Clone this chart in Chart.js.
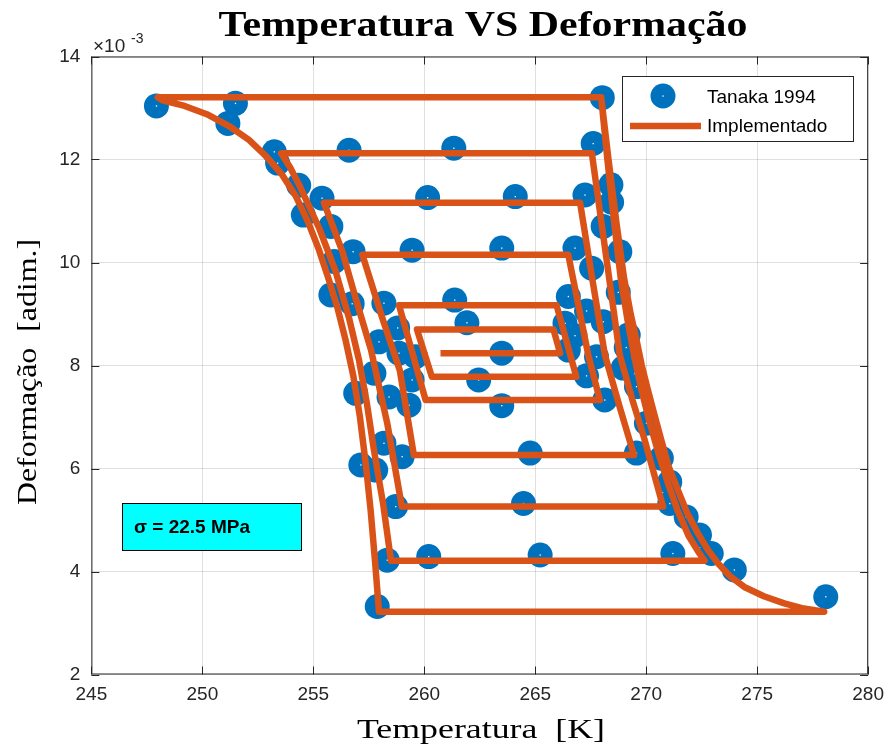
<!DOCTYPE html>
<html>
<head>
<meta charset="utf-8">
<script src="https://cdn.jsdelivr.net/npm/chart.js@4/dist/chart.umd.min.js"></script>
<style>
  html, body { margin: 0; padding: 0; background: #fff; }
  #wrap { width: 893px; height: 749px; }
</style>
</head>
<body>
<div id="wrap"><canvas id="chart" width="893" height="749"></canvas></div>
<script>
// experimental points (Tanaka 1994), strain in units of 1e-3
const tanakaTemp = [
  247.93, 251.49, 251.15, 253.24, 253.39, 254.34, 254.55, 255.39, 255.79, 256.61,
  256.79, 255.94, 259.45, 255.79, 256.75, 258.18, 258.80, 257.96, 258.86, 259.61,
  257.73, 259.45, 256.91, 258.41, 259.31, 258.18, 259.00, 257.14, 257.81, 258.71,
  258.33, 260.20, 257.88,
  261.33, 260.15, 261.37, 261.92, 263.49, 262.45, 263.49, 264.10, 263.49, 264.77,
  264.47, 265.22,
  268.02, 267.61, 268.41, 267.24, 268.44, 268.06, 266.79, 268.81, 267.54, 266.49,
  268.74, 267.31, 266.34, 266.79, 268.06, 269.19, 266.49, 267.76, 269.10, 267.31,
  268.96, 268.13, 269.56, 270.01, 269.56, 270.68, 271.06, 271.06, 271.80, 272.40,
  272.93, 271.20, 273.97, 278.09
];
const tanakaDef = [
  13.04, 13.09, 12.70, 12.15, 11.93, 11.50, 10.92, 11.25, 10.70, 12.18,
  10.21, 10.02, 10.24, 9.37, 9.20, 9.21, 8.73, 8.46, 8.24, 8.17,
  7.85, 7.72, 7.46, 7.39, 7.23, 6.49, 6.23, 6.07, 5.97, 5.26,
  4.22, 4.29, 3.32,
  12.22, 11.26, 9.27, 8.83, 8.24, 7.72, 7.22, 11.28, 10.28, 6.30,
  5.32, 4.32,
  13.20, 12.31, 11.51, 11.31, 11.17, 10.70, 10.28, 10.21, 9.89, 9.34,
  9.42, 9.06, 8.82, 8.58, 8.85, 8.59, 8.30, 8.17, 8.35, 7.80,
  7.95, 7.33, 7.59, 6.88, 6.30, 6.20, 5.74, 5.32, 5.06, 4.71,
  4.35, 4.35, 4.03, 3.51
];

// model path (Implementado), strain in units of 1e-3
const implTemp = [
  // heating, full loop
  247.99, 267.97, 268.3, 268.65, 269.0, 269.3, 269.56, 269.8, 270.08, 270.38, 270.68,
  271.0, 271.43, 271.85, 272.33, 272.78, 273.23, 273.8, 274.42, 275.3, 276.22, 277.1, 278.02,
  // cooling, full loop
  257.96, 257.78, 257.58, 257.36, 257.1, 256.8, 256.45, 256.1, 255.71, 255.25, 254.75,
  254.22, 253.6, 252.9, 252.1, 251.2, 250.2, 249.2, 248.2, 247.99,
  // partial loops
  267.97, 268.25, 268.55, 268.85, 269.15, 269.45, 269.8, 270.15, 270.55, 270.95, 271.4, 271.9, 272.35, 272.63,
  258.50, 258.15, 257.73, 257.4, 257.06, 256.61, 256.01, 255.27, 254.8, 254.37, 253.95, 253.55,
  267.55, 268.2, 268.81, 269.4, 269.9, 270.35, 270.76,
  258.99, 258.33, 257.6, 256.91, 256.31, 255.48,
  267.02, 267.6, 268.14, 268.8, 269.45,
  259.53, 258.9, 258.11, 257.21,
  266.49, 267.39, 267.91,
  260.06, 258.86,
  265.96, 266.85,
  260.34, 259.67,
  265.82, 266.12,
  260.73
];
const implDef = [
  13.21, 13.21, 12.0, 10.8, 9.7, 9.0, 8.50, 8.0, 7.52, 7.03, 6.55,
  6.05, 5.58, 5.13, 4.74, 4.42, 4.16, 3.90, 3.70, 3.52, 3.38, 3.28, 3.22,
  3.22, 4.20, 5.20, 6.10, 7.00, 7.80, 8.50, 9.10, 9.65, 10.25, 10.80,
  11.28, 11.70, 12.05, 12.38, 12.65, 12.88, 13.04, 13.15, 13.21,
  13.21, 12.0, 10.8, 9.7, 8.9, 8.2, 7.5, 6.9, 6.3, 5.75, 5.2, 4.7, 4.38, 4.21,
  4.21, 5.30, 6.36, 7.30, 8.10, 8.92, 9.82, 10.66, 11.10, 11.50, 11.85, 12.12,
  12.12, 10.1, 8.20, 7.30, 6.60, 5.90, 5.26,
  5.26, 6.88, 8.30, 9.30, 10.21, 11.16,
  11.16, 9.6, 8.20, 7.20, 6.26,
  6.26, 7.90, 8.92, 10.15,
  10.15, 8.20, 7.33,
  7.33, 9.17,
  9.17, 7.78,
  7.78, 8.70,
  8.70, 8.24,
  8.24
];

const xTicks = [245, 250, 255, 260, 265, 270, 275, 280];
const yTicks = [2, 4, 6, 8, 10, 12, 14];

const blue = '#0072BD';
const orange = '#D95319';
const axisColor = '#262626';

function drawFitText(ctx, text, cx, cy, font, width, angle) {
  ctx.save();
  ctx.font = font;
  const w = ctx.measureText(text).width;
  ctx.translate(cx, cy);
  if (angle) ctx.rotate(angle);
  ctx.scale(width / w, 1);
  ctx.textAlign = 'center';
  ctx.textBaseline = 'middle';
  ctx.fillStyle = '#000';
  ctx.fillText(text, 0, 0);
  ctx.restore();
}

const decor = {
  id: 'decor',
  afterDatasetDraw(chart, args) {
    if (args.index !== 0) return;
    const ctx = chart.ctx;
    ctx.save();
    ctx.fillStyle = '#fff';
    args.meta.data.forEach(p => ctx.fillRect(p.x - 0.6, p.y - 0.6, 1.3, 1.3));
    ctx.restore();
  },
  afterDraw(chart) {
    const ctx = chart.ctx;
    const a = chart.chartArea;
    const xs = chart.scales.x, ys = chart.scales.y;
    ctx.save();
    // box and inward ticks
    ctx.strokeStyle = axisColor;
    ctx.lineWidth = 1;
    ctx.strokeRect(a.left + 0.5, a.top + 0.5, a.right - a.left - 1, a.bottom - a.top - 1);
    ctx.beginPath();
    xTicks.forEach(v => {
      const x = Math.round(xs.getPixelForValue(v)) + 0.5;
      ctx.moveTo(x, a.bottom); ctx.lineTo(x, a.bottom - 8);
      ctx.moveTo(x, a.top); ctx.lineTo(x, a.top + 8);
    });
    yTicks.forEach(v => {
      const y = Math.round(ys.getPixelForValue(v)) + 0.5;
      ctx.moveTo(a.left, y); ctx.lineTo(a.left + 8, y);
      ctx.moveTo(a.right, y); ctx.lineTo(a.right - 8, y);
    });
    ctx.stroke();

    // exponent
    ctx.fillStyle = axisColor;
    ctx.textBaseline = 'alphabetic';
    ctx.textAlign = 'left';
    ctx.font = '19px "Liberation Sans", Arial, sans-serif';
    ctx.fillText('\u00d710', 93, 52);
    ctx.font = '14px "Liberation Sans", Arial, sans-serif';
    ctx.fillText('-3', 131, 43);

    // legend
    ctx.fillStyle = '#fff';
    ctx.fillRect(622, 76, 231, 65);
    ctx.strokeStyle = axisColor;
    ctx.strokeRect(622.5, 76.5, 231, 65);
    ctx.fillStyle = blue;
    ctx.beginPath();
    ctx.arc(663, 96, 12.5, 0, Math.PI * 2);
    ctx.fill();
    ctx.fillStyle = '#fff';
    ctx.fillRect(662.4, 95.4, 1.3, 1.3);
    ctx.strokeStyle = orange;
    ctx.lineWidth = 6.5;
    ctx.beginPath();
    ctx.moveTo(630, 126); ctx.lineTo(701, 126);
    ctx.stroke();
    ctx.fillStyle = '#000';
    ctx.font = '19px "Liberation Sans", Arial, sans-serif';
    ctx.textBaseline = 'middle';
    ctx.fillText('Tanaka 1994', 707, 98);
    ctx.fillText('Implementado', 707, 127);

    // stress annotation
    ctx.fillStyle = '#00FFFF';
    ctx.fillRect(122, 503, 179, 47);
    ctx.strokeStyle = '#000';
    ctx.lineWidth = 1;
    ctx.strokeRect(122.5, 503.5, 179, 47);
    ctx.fillStyle = '#000';
    ctx.font = 'bold 19px "Liberation Sans", Arial, sans-serif';
    ctx.fillText('\u03c3 = 22.5 MPa', 134, 528);
    ctx.restore();

    // title and axis labels
    drawFitText(ctx, 'Temperatura VS Deformação', 483, 27, 'bold 35px "Liberation Serif", serif', 529, 0);
    drawFitText(ctx, 'Temperatura  [K]', 481, 731, '28px "Liberation Serif", serif', 248, 0);
    drawFitText(ctx, 'Deformação  [adim.]', 29, 372, '28px "Liberation Serif", serif', 266, -Math.PI / 2);
  }
};

const ctx = document.getElementById('chart');
const chart = new Chart(ctx, {
  type: 'scatter',
  data: {
    datasets: [
      {
        label: 'Tanaka 1994',
        data: tanakaTemp.map((t, i) => ({ x: t, y: tanakaDef[i] })),
        backgroundColor: blue,
        borderColor: blue,
        borderWidth: 0,
        pointRadius: 12.5,
        pointHoverRadius: 12.5,
        order: 1
      },
      {
        label: 'Implementado',
        data: implTemp.map((t, i) => ({ x: t, y: implDef[i] })),
        showLine: true,
        borderColor: orange,
        backgroundColor: orange,
        borderWidth: 6.5,
        borderJoinStyle: 'round',
        pointRadius: 0,
        pointHoverRadius: 0,
        tension: 0,
        order: 0
      }
    ]
  },
  options: {
    responsive: false,
    animation: false,
    events: [],
    layout: { padding: { top: 56.5, right: 21.3, left: 0, bottom: 0 } },
    plugins: {
      legend: { display: false },
      title: { display: false },
      tooltip: { enabled: false }
    },
    scales: {
      x: {
        type: 'linear',
        min: 245, max: 280,
        afterBuildTicks: s => { s.ticks = xTicks.map(v => ({ value: v })); },
        afterFit: s => { s.height = 749 - 674.5; },
        grid: { color: 'rgba(38,38,38,0.15)', drawTicks: false },
        border: { display: false },
        ticks: {
          color: axisColor,
          padding: 9,
          font: { family: '"Liberation Sans", Arial, sans-serif', size: 19 }
        }
      },
      y: {
        type: 'linear',
        min: 2, max: 14,
        afterBuildTicks: s => { s.ticks = yTicks.map(v => ({ value: v })); },
        afterFit: s => { s.width = 91.4; },
        grid: { color: 'rgba(38,38,38,0.15)', drawTicks: false },
        border: { display: false },
        ticks: {
          color: axisColor,
          padding: 11,
          font: { family: '"Liberation Sans", Arial, sans-serif', size: 19 }
        }
      }
    }
  },
  plugins: [decor]
});
</script>
</body>
</html>
